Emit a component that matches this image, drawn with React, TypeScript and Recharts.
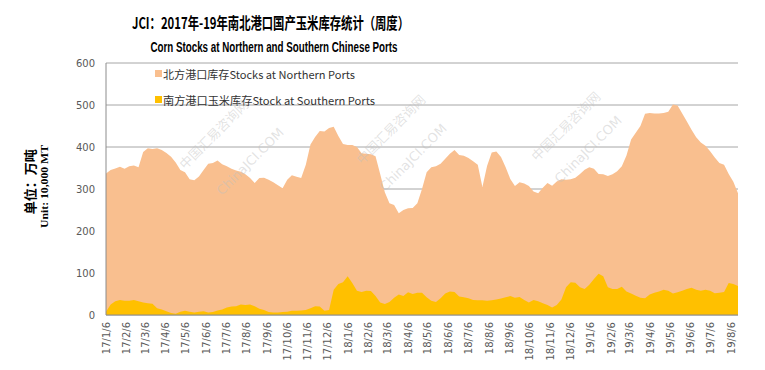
import { AreaChart, Area, XAxis, YAxis, CartesianGrid } from 'recharts';

// weekly readings, first week 2017-01-06
const startDate = '2017-01-06';

const northern = [
  337, 345, 349, 353, 348, 354, 356, 352, 388, 397,
  395, 397, 393, 386, 377, 363, 345, 340, 323, 321,
  330, 345, 360, 362, 368, 359, 354, 348, 344, 341,
  335, 326, 314, 326, 327, 322, 316, 309, 302, 322,
  333, 329, 326, 358, 406, 424, 438, 437, 445, 448,
  426, 407, 405, 405, 400, 385, 384, 383, 378, 336,
  292, 266, 262, 242, 250, 254, 255, 266, 300, 340,
  352, 354, 360, 372, 384, 393, 381, 379, 374, 366,
  358, 305, 355, 387, 389, 376, 352, 324, 307, 316,
  313, 307, 294, 290, 303, 314, 308, 318, 323, 322,
  323, 327, 336, 346, 352, 348, 336, 335, 331, 335,
  342, 354, 380, 418, 434, 450, 479, 481, 480, 480,
  481, 484, 501, 499, 480, 461, 441, 423, 411, 403,
  390, 375, 362, 358, 336, 317, 290,
];

const southern = [
  8, 25, 33, 36, 34, 34, 36, 33, 30, 28,
  27, 16, 13, 9, 5, 3, 8, 10, 8, 6,
  8, 9, 6, 7, 11, 13, 18, 20, 21, 25,
  24, 25, 21, 15, 12, 7, 6, 6, 7, 8,
  10, 10, 11, 12, 16, 21, 20, 10, 12, 60,
  74, 78, 92, 76, 58, 55, 58, 57, 45, 30,
  26, 31, 41, 49, 45, 54, 50, 53, 53, 42,
  34, 31, 40, 51, 56, 55, 44, 42, 40, 36,
  35, 35, 34, 35, 37, 39, 42, 45, 41, 43,
  36, 30, 36, 33, 28, 24, 18, 24, 37, 66,
  78, 77, 66, 62, 72, 86, 98, 92, 66, 62,
  62, 67, 56, 51, 46, 41, 40, 49, 53, 56,
  60, 58, 51, 54, 58, 62, 65, 60, 58, 60,
  58, 52, 53, 55, 76, 74, 69,
];

const seriesNames = [
  '北方港口库存Stocks at Northern Ports',
  '南方港口玉米库存Stock at Southern Ports',
];
const seriesColors = ['#F9BF8F', '#FFC000'];

const tickLabels = [
  '17/1/6', '17/2/6', '17/3/6', '17/4/6', '17/5/6', '17/6/6', '17/7/6', '17/8/6',
  '17/9/6', '17/10/6', '17/11/6', '17/12/6',
  '18/1/6', '18/2/6', '18/3/6', '18/4/6', '18/5/6', '18/6/6', '18/7/6', '18/8/6',
  '18/9/6', '18/10/6', '18/11/6', '18/12/6',
  '19/1/6', '19/2/6', '19/3/6', '19/4/6', '19/5/6', '19/6/6', '19/7/6', '19/8/6',
];

const yTicks = [0, 100, 200, 300, 400, 500, 600];

const DAY = 86400000;
const t0 = Date.parse(startDate + 'T00:00:00Z');
const data = northern.map((n, i) => ({ t: t0 + i * 7 * DAY, north: n, south: southern[i] }));
const tEnd = data[data.length - 1].t;

const toTs = (s: string) => {
  const [y, m, d] = s.split('/').map(Number);
  return Date.UTC(2000 + y, m - 1, d);
};
const tickTs = tickLabels.map(toTs);
const labelOf = new Map(tickTs.map((t, i) => [t, tickLabels[i]]));

const axisGray = '#8C8C8C';
const textGray = '#595959';

function XTick({ x, y, payload }: { x?: number; y?: number; payload?: { value: number } }) {
  if (x == null || y == null || !payload) return null;
  return (
    <text
      x={x}
      y={y}
      transform={`rotate(-90, ${x}, ${y})`}
      textAnchor="end"
      dy="0.35em"
      fontSize={10}
      fill={textGray}
      fontFamily="DejaVu Sans"
    >
      {labelOf.get(payload.value)}
    </text>
  );
}

// faint watermark pairs: [x, y] of the Chinese line start, then the English line start
const watermarks = [
  [185, 170, 222, 196],
  [362, 165, 385, 192],
  [537, 162, 560, 184],
];

export default function App() {
  return (
    <div style={{ position: 'absolute', left: 0, top: 0, width: 765, height: 370, background: '#fff' }}>
      <AreaChart width={765} height={370} data={data} margin={{ top: 63, right: 27, bottom: 0, left: 56 }}>
        <CartesianGrid vertical={false} stroke="#A6A6A6" />
        <XAxis
          type="number"
          dataKey="t"
          domain={[t0, tEnd]}
          ticks={tickTs}
          interval={0}
          allowDataOverflow
          tick={(p: any) => <XTick {...p} />}
          tickLine={false}
          tickSize={0}
          tickMargin={7}
          axisLine={{ stroke: axisGray }}
          height={55}
        />
        <YAxis
          domain={[0, 600]}
          ticks={yTicks}
          interval={0}
          width={50}
          tickLine={false}
          tickSize={0}
          tickMargin={11}
          axisLine={{ stroke: axisGray }}
          tick={{ fontSize: 10, fill: textGray, fontFamily: 'DejaVu Sans' }}
        />
        <Area
          type="linear"
          dataKey="north"
          name={seriesNames[0]}
          stroke="none"
          fill={seriesColors[0]}
          fillOpacity={1}
          dot={false}
          activeDot={false}
          isAnimationActive={false}
        />
        <Area
          type="linear"
          dataKey="south"
          name={seriesNames[1]}
          stroke="none"
          fill={seriesColors[1]}
          fillOpacity={1}
          dot={false}
          activeDot={false}
          isAnimationActive={false}
        />
      </AreaChart>

      <svg
        width={765}
        height={370}
        style={{ position: 'absolute', left: 0, top: 0, pointerEvents: 'none' }}
      >
        <text
          x={270.5}
          y={28.5}
          textAnchor="middle"
          fontSize={16}
          fontWeight="bold"
          fontFamily="'Noto Sans CJK SC', sans-serif"
          fill="#000"
          textLength={277}
          lengthAdjust="spacingAndGlyphs"
        >
          JCI：2017年-19年南北港口国产玉米库存统计（周度）
        </text>
        <text
          x={274}
          y={52}
          textAnchor="middle"
          fontSize={14}
          fontWeight="bold"
          fontFamily="'Liberation Sans', sans-serif"
          fill="#000"
          textLength={247}
          lengthAdjust="spacingAndGlyphs"
        >
          Corn Stocks at Northern and Southern Chinese Ports
        </text>

        <text
          x={30}
          y={181.7}
          transform="rotate(-90, 30, 181.7)"
          textAnchor="middle"
          dominantBaseline="central"
          fontSize={13}
          fontWeight="bold"
          fontFamily="'Noto Sans CJK SC', sans-serif"
          fill="#000"
        >
          单位：万吨
        </text>
        <text
          x={44}
          y={186.5}
          transform="rotate(-90, 44, 186.5)"
          textAnchor="middle"
          dominantBaseline="central"
          fontSize={10}
          fontWeight="bold"
          fontFamily="'Liberation Serif', serif"
          fill="#000"
          textLength={83}
          lengthAdjust="spacingAndGlyphs"
        >
          Unit: 10,000 MT
        </text>

        {/* legend */}
        <rect x={155} y={70} width={7} height={7} fill={seriesColors[0]} />
        <text
          x={163}
          y={74}
          dominantBaseline="central"
          fontSize={11}
          fontFamily="'Noto Sans CJK SC', sans-serif"
          fill="#333"
          textLength={192}
          lengthAdjust="spacingAndGlyphs"
        >
          {seriesNames[0]}
        </text>
        <rect x={155} y={96} width={7} height={7} fill={seriesColors[1]} />
        <text
          x={163}
          y={99.5}
          dominantBaseline="central"
          fontSize={11}
          fontFamily="'Noto Sans CJK SC', sans-serif"
          fill="#333"
          textLength={212}
          lengthAdjust="spacingAndGlyphs"
        >
          {seriesNames[1]}
        </text>

        {/* watermark */}
        {watermarks.map(([cx, cy, ex, ey], i) => (
          <g key={i} fill="#BFBFBF" fillOpacity={0.45} fontSize={13}>
            <text x={cx} y={cy} transform={`rotate(-45, ${cx}, ${cy})`} fontFamily="'Noto Sans CJK SC', sans-serif">
              中国汇易咨询网
            </text>
            <text x={ex} y={ey} transform={`rotate(-45, ${ex}, ${ey})`} fontFamily="'DejaVu Sans', sans-serif">
              ChinaJCI.COM
            </text>
          </g>
        ))}
      </svg>
    </div>
  );
}
